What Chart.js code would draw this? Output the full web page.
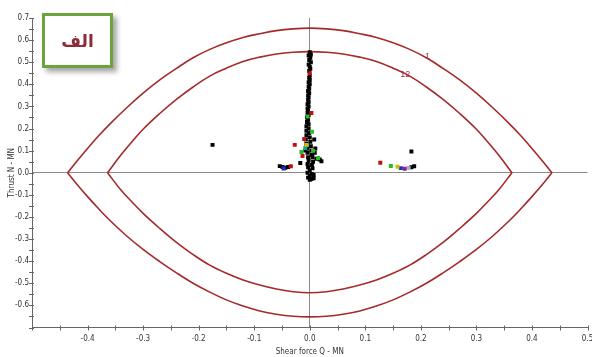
<!DOCTYPE html>
<html><head><meta charset="utf-8">
<script src="https://cdn.jsdelivr.net/npm/chart.js@4"></script>
<style>
html,body{margin:0;padding:0;background:#fff;}
#wrap{position:relative;width:592px;height:357px;overflow:hidden;}
#c{position:absolute;left:0;top:0;}
#tag{position:absolute;left:42px;top:13px;width:65px;height:49px;border:3px solid #6ba43a;background:#fff;box-shadow:4px 4px 5px rgba(0,0,0,0.35);display:flex;align-items:center;justify-content:center;font-family:"DejaVu Sans",sans-serif;font-weight:bold;font-size:17px;color:#8c2a36;direction:rtl;}
</style></head>
<body>
<div id="wrap"><canvas id="c" width="592" height="357"></canvas><div id="tag">الف</div></div>
<script>
// ---- axis ticks ----
const xTickMarks = [-0.5,-0.45,-0.4,-0.35,-0.3,-0.25,-0.2,-0.15,-0.1,-0.05,0,0.05,0.1,0.15,0.2,0.25,0.3,0.35,0.4,0.45,0.5];
const xLabelValues = [-0.4,-0.3,-0.2,-0.1,0,0.1,0.2,0.3,0.4,0.5];
const xLabelTexts = ['-0.4','-0.3','-0.2','-0.1','0.0','0.1','0.2','0.3','0.4','0.5'];
const yTickMarks = [-0.7,-0.65,-0.6,-0.55,-0.5,-0.45,-0.4,-0.35,-0.3,-0.25,-0.2,-0.15,-0.1,-0.05,0,0.05,0.1,0.15,0.2,0.25,0.3,0.35,0.4,0.45,0.5,0.55,0.6,0.65,0.7];
const yLabelValues = [-0.6,-0.5,-0.4,-0.3,-0.2,-0.1,0,0.1,0.2,0.3,0.4,0.5,0.6,0.7];
const yLabelTexts = ['-0.6','-0.5','-0.4','-0.3','-0.2','-0.1','0.0','0.1','0.2','0.3','0.4','0.5','0.6','0.7'];
const xTitle = 'Shear force Q - MN';
const yTitle = 'Thrust N - MN';

// ---- envelope curves ----
const outerUpperQ = [-0.436,-0.42,-0.40,-0.38,-0.36,-0.33,-0.30,-0.27,-0.24,-0.21,-0.18,-0.15,-0.12,-0.09,-0.06,-0.03,0,0.03,0.06,0.09,0.12,0.15,0.18,0.21,0.24,0.27,0.30,0.33,0.36,0.38,0.40,0.42,0.436];
const outerUpperN = [0,0.05,0.11,0.167,0.22,0.293,0.36,0.42,0.472,0.52,0.558,0.588,0.612,0.629,0.643,0.651,0.654,0.651,0.643,0.629,0.612,0.588,0.558,0.52,0.472,0.42,0.36,0.293,0.22,0.167,0.11,0.05,0];
const outerLowerQ = [-0.436,-0.42,-0.40,-0.38,-0.36,-0.33,-0.30,-0.27,-0.24,-0.21,-0.18,-0.15,-0.12,-0.09,-0.06,-0.03,0,0.03,0.06,0.09,0.12,0.15,0.18,0.21,0.24,0.27,0.30,0.33,0.36,0.38,0.40,0.42,0.436];
const outerLowerN = [0,-0.05,-0.108,-0.163,-0.215,-0.285,-0.347,-0.402,-0.453,-0.50,-0.54,-0.575,-0.603,-0.625,-0.64,-0.649,-0.652,-0.649,-0.64,-0.625,-0.603,-0.575,-0.54,-0.50,-0.453,-0.402,-0.347,-0.285,-0.215,-0.163,-0.108,-0.05,0];
const innerUpperQ = [-0.364,-0.34,-0.32,-0.30,-0.27,-0.24,-0.21,-0.18,-0.15,-0.12,-0.09,-0.06,-0.03,0,0.03,0.06,0.09,0.12,0.15,0.18,0.21,0.24,0.27,0.30,0.32,0.34,0.364];
const innerUpperN = [0,0.08,0.14,0.197,0.268,0.332,0.388,0.437,0.473,0.503,0.523,0.537,0.545,0.548,0.545,0.537,0.523,0.503,0.473,0.437,0.388,0.332,0.268,0.197,0.14,0.08,0];
const innerLowerQ = [-0.364,-0.34,-0.32,-0.30,-0.27,-0.24,-0.21,-0.18,-0.15,-0.12,-0.09,-0.06,-0.03,0,0.03,0.06,0.09,0.12,0.15,0.18,0.21,0.24,0.27,0.30,0.32,0.34,0.364];
const innerLowerN = [0,-0.078,-0.132,-0.184,-0.252,-0.315,-0.37,-0.418,-0.455,-0.485,-0.508,-0.526,-0.538,-0.543,-0.538,-0.526,-0.508,-0.485,-0.455,-0.418,-0.37,-0.315,-0.252,-0.184,-0.132,-0.078,0];
const curveLabels = ['1','12'];
const curveLabelQ = [0.212,0.172];
const curveLabelN = [0.527,0.445];

// ---- load points ----
const blackQ = [0.0,0.002,-0.002,0.001,-0.001,0.002,-0.002,0.0,0.001,-0.001,0.0,-0.001,0.0,-0.002,0.0,-0.002,-0.001,-0.003,-0.001,-0.003,-0.002,-0.003,-0.002,-0.004,-0.002,-0.004,-0.003,-0.004,-0.002,-0.005,-0.003,-0.005,-0.002,-0.006,-0.002,-0.006,-0.001,-0.006,0.0,-0.007,0.001,-0.006,0.002,-0.005,0.003,-0.004,0.004,-0.003,0.005,0.012,0.018,0.021,-0.002,0.006,-0.004,0.004,-0.003,0.005,0.0,-0.004,0.004,0.0,-0.003,0.003,0.0,0.008,0.01,-0.008,0.009,0.007,0.007,-0.175,-0.054,-0.049,-0.044,-0.039,-0.017,0.183,0.188,0.183];
const blackN = [0.545,0.535,0.53,0.52,0.51,0.50,0.49,0.48,0.47,0.46,0.44,0.43,0.42,0.41,0.40,0.39,0.38,0.37,0.36,0.35,0.34,0.33,0.32,0.31,0.30,0.29,0.28,0.27,0.26,0.25,0.24,0.23,0.22,0.21,0.20,0.19,0.18,0.17,0.16,0.15,0.14,0.13,0.12,0.11,0.10,0.09,0.08,0.07,0.07,0.063,0.06,0.052,0.055,0.05,0.04,0.035,0.025,0.02,0.01,0.0,-0.005,-0.015,-0.022,-0.028,-0.032,0.15,0.11,0.10,0.09,-0.01,-0.025,0.126,0.03,0.026,0.023,0.026,0.044,0.096,0.029,0.025];
const redQ = [-0.034,-0.027,-0.01,-0.013,0.0,0.127,0.003];
const redN = [0.029,0.126,0.153,0.076,0.45,0.045,0.27];
const greenQ = [-0.015,0.004,0.006,0.015,-0.004,0.146];
const greenN = [0.094,0.185,0.099,0.067,0.254,0.031];
const yellowQ = [-0.006,0.158];
const yellowN = [0.126,0.027];
const blueQ = [0.164,-0.047];
const blueN = [0.021,0.019];
const purpleQ = [0.171];
const purpleN = [0.018];
const grayQ = [0.178];
const grayN = [0.022];
const cyanQ = [-0.008];
const cyanN = [0.112];

function pts(q,n){ return q.map((v,i)=>({x:v,y:n[i]})); }
const curveColor = '#a52a2a';
function curve(q,n){ return {data:pts(q,n), showLine:true, borderColor:curveColor, borderWidth:1.6, pointRadius:0, fill:false, tension:0.4}; }
function dots(q,n,c){ return {data:pts(q,n), showLine:false, pointStyle:'rect', pointRadius:2.8, backgroundColor:c, borderColor:c, borderWidth:0}; }

function lookup(vals, texts, value){
  const i = vals.findIndex(v=>Math.abs(v-value)<1e-6);
  return i<0 ? '' : texts[i];
}
const tickFont = {family:'"Liberation Sans Narrow","DejaVu Sans Condensed","Liberation Sans",sans-serif', size:8};

const crossTicks = {
  id:'crossTicks',
  afterDraw(chart){
    const ctx = chart.ctx, xs = chart.scales.x, ys = chart.scales.y;
    ctx.save();
    ctx.strokeStyle = '#666'; ctx.lineWidth = 1;
    ctx.beginPath();
    xs.ticks.forEach(t=>{ const p = Math.round(xs.getPixelForValue(t.value))+0.5; ctx.moveTo(p, xs.top-2); ctx.lineTo(p, xs.top+3); });
    ys.ticks.forEach(t=>{ const p = Math.round(ys.getPixelForValue(t.value))+0.5; ctx.moveTo(ys.right-3, p); ctx.lineTo(ys.right+2, p); });
    ctx.stroke();
    ctx.fillStyle = '#9a3444';
    ctx.font = '9px "Liberation Sans", sans-serif';
    ctx.textAlign = 'center'; ctx.textBaseline = 'middle';
    curveLabels.forEach((s,i)=>{ ctx.fillText(s, xs.getPixelForValue(curveLabelQ[i]), ys.getPixelForValue(curveLabelN[i])); });
    ctx.restore();
  }
};

new Chart(document.getElementById('c'), {
  type:'scatter',
  data:{ datasets:[
    dots(redQ,redN,'#c01010'),
    dots(greenQ,greenN,'#22c022'),
    dots(yellowQ,yellowN,'#c8c000'),
    dots(blueQ,blueN,'#2030c0'),
    dots(purpleQ,purpleN,'#902090'),
    dots(grayQ,grayN,'#a8a8c8'),
    dots(cyanQ,cyanN,'#10a0a0'),
    dots(blackQ,blackN,'#000000'),
    curve(outerUpperQ,outerUpperN),
    curve(outerLowerQ,outerLowerN),
    curve(innerUpperQ,innerUpperN),
    curve(innerLowerQ,innerLowerN)
  ]},
  options:{
    responsive:false, animation:false,
    layout:{padding:{top:18,right:4.5,left:0,bottom:0}},
    plugins:{legend:{display:false}, tooltip:{enabled:false}},
    scales:{
      x:{ type:'linear', min:-0.5, max:0.5,
        afterBuildTicks(s){ s.ticks = xTickMarks.map(v=>({value:v})); },
        afterFit(s){ s.height = 29.5; s.paddingLeft = 0; s.paddingRight = 0; },
        ticks:{ autoSkip:false, maxRotation:0, padding:7, color:'#333', font:tickFont, callback:(v)=>lookup(xLabelValues,xLabelTexts,v) },
        grid:{ drawTicks:false, color:(c)=> (c.tick && Math.abs(c.tick.value)<1e-9) ? '#8a8a8a' : 'rgba(0,0,0,0)' },
        border:{ display:true, color:'#666', width:1 },
        title:{ display:true, text:xTitle, color:'#333', font:tickFont, padding:{top:0,bottom:0} }
      },
      y:{ type:'linear', min:-0.7, max:0.7,
        afterBuildTicks(s){ s.ticks = yTickMarks.map(v=>({value:v})); },
        afterFit(s){ s.width = 32; s.paddingTop = 0; s.paddingBottom = 0; },
        ticks:{ autoSkip:false, padding:3, color:'#333', font:tickFont, callback:(v)=>lookup(yLabelValues,yLabelTexts,v) },
        grid:{ drawTicks:false, color:(c)=> (c.tick && Math.abs(c.tick.value)<1e-9) ? '#8a8a8a' : 'rgba(0,0,0,0)' },
        border:{ display:true, color:'#666', width:1 },
        title:{ display:true, text:yTitle, color:'#333', font:tickFont, padding:{top:7,bottom:0} }
      }
    }
  },
  plugins:[crossTicks]
});
</script>
</body></html>
